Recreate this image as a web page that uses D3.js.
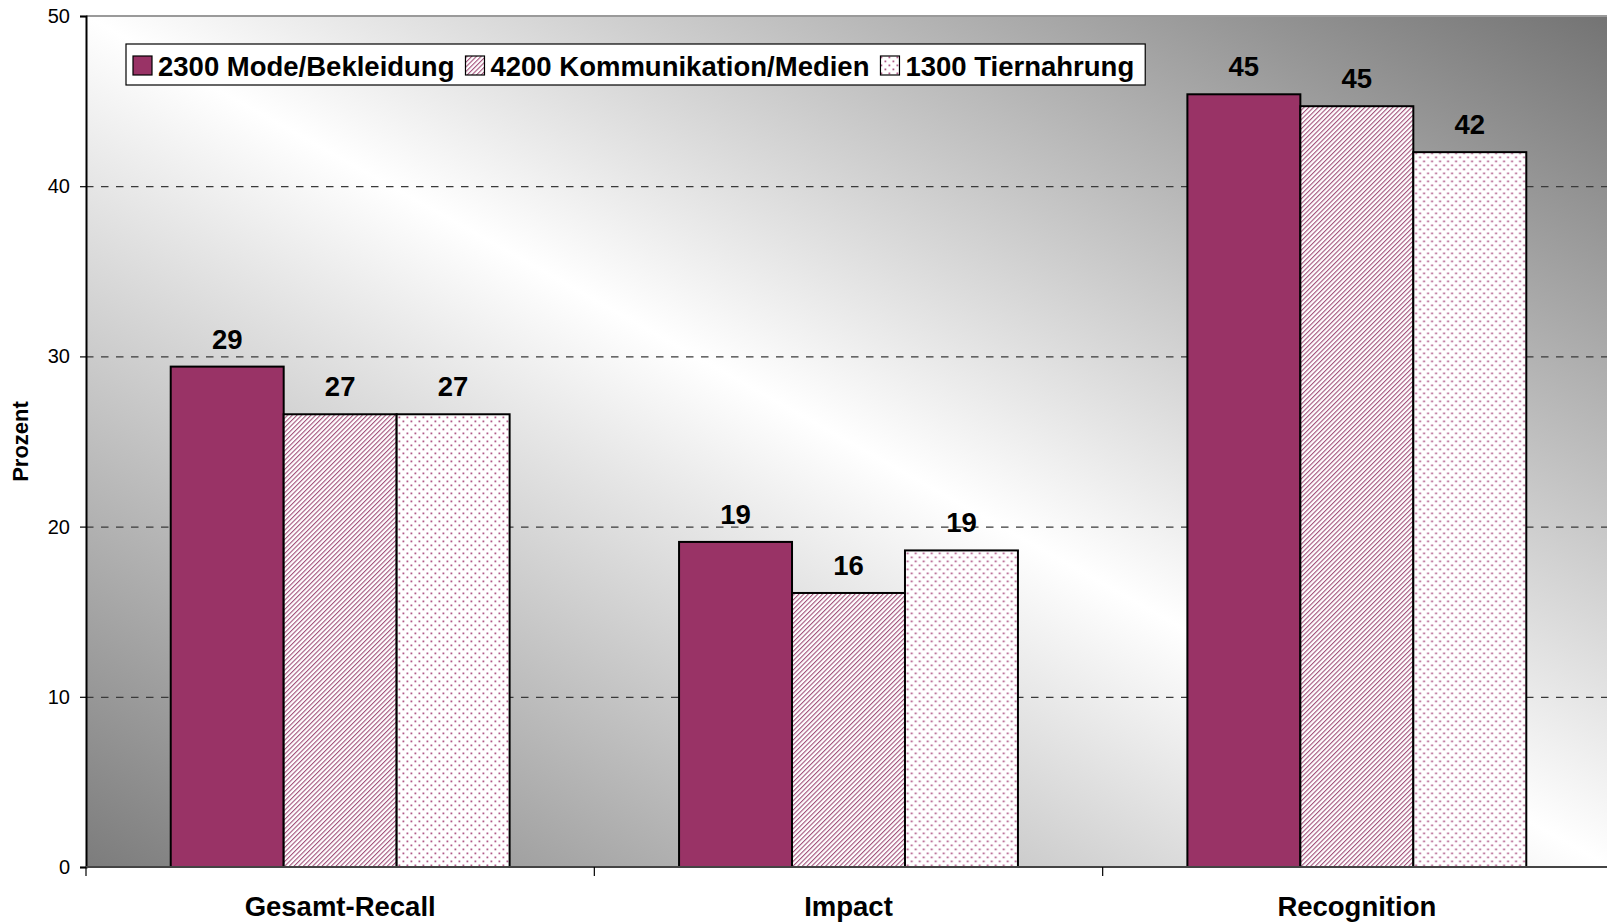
<!DOCTYPE html>
<html>
<head>
<meta charset="utf-8">
<script src="https://cdn.jsdelivr.net/npm/d3@7/dist/d3.min.js"></script>
<style>
  html, body { margin: 0; padding: 0; background: #ffffff; }
  svg { display: block; font-family: "Liberation Sans", Arial, sans-serif; }
</style>
</head>
<body>
<svg id="chart" width="1607" height="922"></svg>
<script>
// ---- data ----
const categories = ["Gesamt-Recall", "Impact", "Recognition"];
const seriesNames = ["2300 Mode/Bekleidung", "4200 Kommunikation/Medien", "1300 Tiernahrung"];
const modeValues = [29.4, 19.1, 45.4];
const kommValues = [26.6, 16.1, 44.7];
const tierValues = [26.6, 18.6, 42.0];
const yTicks = [0, 10, 20, 30, 40, 50];
const yTitle = "Prozent";

const seriesValues = [modeValues, kommValues, tierValues];

// ---- layout ----
const plot = { left: 86, top: 16, right: 1611, bottom: 867 };

const svg = d3.select("#chart");
const defs = svg.append("defs");

// background gradient
const grad = defs.append("linearGradient").attr("id", "bg")
  .attr("x1", 0).attr("y1", 1).attr("x2", 1).attr("y2", 0);
grad.append("stop").attr("offset", "0").attr("stop-color", "#7c7c7c");
grad.append("stop").attr("offset", "0.5").attr("stop-color", "#ffffff");
grad.append("stop").attr("offset", "1").attr("stop-color", "#737373");

const plum = "#993366";

// diagonal stripes pattern
const pStripe = defs.append("pattern").attr("id", "stripes")
  .attr("patternUnits", "userSpaceOnUse").attr("width", 3.3).attr("height", 10)
  .attr("patternTransform", "rotate(45)");
pStripe.append("rect").attr("width", 3.3).attr("height", 10).attr("fill", "#ffffff");
pStripe.append("rect").attr("width", 1.1).attr("height", 10).attr("fill", "#a3527b");

// dotted pattern
const pDots = defs.append("pattern").attr("id", "dots")
  .attr("patternUnits", "userSpaceOnUse").attr("width", 8).attr("height", 8);
pDots.append("rect").attr("width", 8).attr("height", 8).attr("fill", "#ffffff");
pDots.append("rect").attr("x", 0.5).attr("y", 0.5).attr("width", 1.8).attr("height", 1.8).attr("fill", "#b05a88");
pDots.append("rect").attr("x", 4.5).attr("y", 4.5).attr("width", 1.8).attr("height", 1.8).attr("fill", "#b05a88");

const fills = [plum, "url(#stripes)", "url(#dots)"];

// ---- scales ----
const x0 = d3.scaleBand().domain(categories).range([plot.left, plot.right]).paddingInner(0).paddingOuter(0);
const bw = x0.bandwidth();
const x1 = d3.scaleBand().domain(d3.range(seriesNames.length)).range([bw * 0.75 / 4.5, bw - bw * 0.75 / 4.5]).padding(0);
const y = d3.scaleLinear().domain([0, 50]).range([plot.bottom, plot.top]);

// plot background
svg.append("rect").attr("x", plot.left).attr("y", plot.top)
  .attr("width", plot.right - plot.left).attr("height", plot.bottom - plot.top)
  .attr("fill", "url(#bg)");

// top border
svg.append("line").attr("x1", plot.left).attr("x2", plot.right)
  .attr("y1", y(50)).attr("y2", y(50)).attr("stroke", "#9a9a9a").attr("stroke-width", 2);

// gridlines
svg.append("g").selectAll("line").data(yTicks.filter(d => d > 0 && d < 50)).join("line")
  .attr("x1", plot.left).attr("x2", plot.right)
  .attr("y1", d => y(d) + 0.5).attr("y2", d => y(d) + 0.5)
  .attr("stroke", "#3a3a3a").attr("stroke-width", 1.2)
  .attr("stroke-dasharray", "7.5,7.5");

// bars
const groups = svg.append("g").selectAll("g").data(categories).join("g")
  .attr("transform", d => `translate(${x0(d)},0)`);

groups.selectAll("rect").data((c, ci) => seriesValues.map((vals, si) => ({ si, v: vals[ci] })))
  .join("rect")
  .attr("x", d => x1(d.si))
  .attr("y", d => y(d.v))
  .attr("width", x1.bandwidth())
  .attr("height", d => y(0) - y(d.v))
  .attr("fill", d => fills[d.si])
  .attr("stroke", "#000").attr("stroke-width", 2);

// value labels
groups.selectAll("text").data((c, ci) => seriesValues.map((vals, si) => ({ si, v: vals[ci] })))
  .join("text")
  .attr("x", d => x1(d.si) + x1.bandwidth() / 2)
  .attr("y", d => y(d.v) - 18)
  .attr("text-anchor", "middle")
  .attr("font-size", 27.5).attr("font-weight", "bold").attr("fill", "#000")
  .text(d => Math.round(d.v));

// y axis
const yAxis = d3.axisLeft(y).tickValues(yTicks).tickSize(6).tickPadding(10).tickFormat(d3.format("d"));
const gy = svg.append("g").attr("transform", `translate(${plot.left},0)`).call(yAxis);
gy.select(".domain").attr("stroke", "#000").attr("stroke-width", 2);
gy.selectAll(".tick line").attr("stroke", "#000").attr("stroke-width", 1.2);
gy.selectAll(".tick text").attr("font-size", 20).attr("fill", "#000")
  .attr("font-family", "Liberation Sans, Arial, sans-serif");

// x axis line
svg.append("line").attr("x1", plot.left).attr("x2", plot.right)
  .attr("y1", plot.bottom).attr("y2", plot.bottom)
  .attr("stroke", "#444").attr("stroke-width", 2);
// x ticks at band boundaries
const boundaries = categories.map(c => x0(c));
svg.append("g").selectAll("line").data(boundaries).join("line")
  .attr("x1", d => d).attr("x2", d => d)
  .attr("y1", plot.bottom).attr("y2", plot.bottom + 9)
  .attr("stroke", "#000").attr("stroke-width", 1.2);
// category labels
svg.append("g").selectAll("text").data(categories).join("text")
  .attr("x", d => x0(d) + bw / 2).attr("y", 916)
  .attr("text-anchor", "middle").attr("font-size", 27.5).attr("font-weight", "bold")
  .text(d => d);

// y title
svg.append("text").attr("transform", `translate(28,${(plot.top + plot.bottom) / 2}) rotate(-90)`)
  .attr("text-anchor", "middle").attr("font-size", 22).attr("font-weight", "bold")
  .text(yTitle);

// legend
const leg = svg.append("g");
const legRect = leg.append("rect").attr("x", 126).attr("y", 44).attr("height", 41)
  .attr("fill", "#fff").attr("stroke", "#000").attr("stroke-width", 1.2);
let lx = 133;
seriesNames.forEach((name, i) => {
  leg.append("rect").attr("x", lx).attr("y", 56).attr("width", 19).attr("height", 19)
    .attr("fill", fills[i]).attr("stroke", "#000").attr("stroke-width", 1.2);
  const t = leg.append("text").attr("x", lx + 25).attr("y", 75.5)
    .attr("font-size", 27.5).attr("font-weight", "bold").text(name);
  lx = lx + 25 + t.node().getComputedTextLength() + 11;
});
legRect.attr("width", lx - 126);
</script>
</body>
</html>
